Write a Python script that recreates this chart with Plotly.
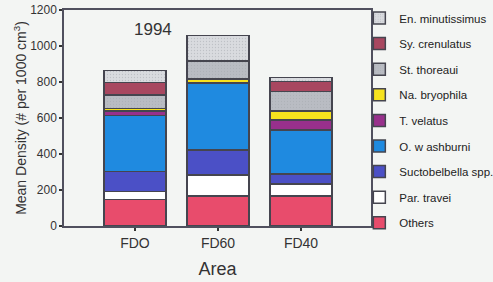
import plotly.graph_objects as go

areas = ["FDO", "FD60", "FD40"]
species = ["Others", "Par. travei", "Suctobelbella spp.", "O. w ashburni", "T. velatus",
           "Na. bryophila", "St. thoreaui", "Sy. crenulatus", "En. minutissimus"]
others = [148, 167, 168]
par_travei = [45, 116, 64]
suctobelbella = [109, 139, 57]
o_washburni = [311, 373, 244]
t_velatus = [26, 3, 56]
na_bryophila = [15, 20, 50]
st_thoreaui = [75, 96, 107]
sy_crenulatus = [68, 3, 56]
en_minutissimus = [66, 140, 22]
series = [others, par_travei, suctobelbella, o_washburni, t_velatus,
          na_bryophila, st_thoreaui, sy_crenulatus, en_minutissimus]
colors = ["#e84c6c", "#ffffff", "#4b50c6", "#1f8ae0", "#98308c",
          "#f6e21e", "#b9bcc3", "#a84760", "#d9dbdf"]
patterned = {"St. thoreaui", "En. minutissimus"}

fig = go.Figure()
n = len(species)
for i, (name, vals, col) in enumerate(zip(species, series, colors)):
    marker = dict(color=col, line=dict(color="#45454f", width=1.5))
    if name in patterned:
        marker["pattern"] = dict(shape=".", size=3, solidity=0.15, fgcolor="#a4a8ae",
                                 bgcolor=col)
    fig.add_trace(go.Bar(x=areas, y=vals, name=name, marker=marker, width=0.75,
                         legendgroup=name, legendrank=n - i))

fig.add_annotation(x=0.22, y=1090, xref="x", yref="y", text="1994", showarrow=False,
                   font=dict(size=17, color="#333"))

fig.update_layout(
    barmode="stack",
    width=493, height=282,
    margin=dict(l=64, r=122, t=10, b=56, autoexpand=False),
    paper_bgcolor="#f3f5f3", plot_bgcolor="#f3f5f3",
    font=dict(family="Liberation Sans, Arial, sans-serif", color="#333"),
    showlegend=True,
    legend=dict(traceorder="grouped", x=0.962, xanchor="left", y=1.03, yanchor="top",
                font=dict(size=11.5, color="#222"), tracegroupgap=6.6, maxheight=400,
                bgcolor="rgba(0,0,0,0)", itemwidth=30),
    xaxis=dict(range=[-0.855, 2.843], showline=True, linecolor="#50505e", linewidth=1.5,
               mirror=True, ticks="outside", ticklen=3, tickwidth=2, tickcolor="#333",
               tickfont=dict(size=14), title=dict(text="Area", font=dict(size=18), standoff=13)),
    yaxis=dict(range=[0, 1200], dtick=200, showline=True, linecolor="#50505e", linewidth=1.5,
               mirror=True, ticks="outside", ticklen=3, tickwidth=2, tickcolor="#333",
               showgrid=False, zeroline=False, tickfont=dict(size=12),
               title=dict(text="Mean Density (# per 1000 cm<sup>3</sup>)", font=dict(size=14),
                          standoff=0)),
)

fig.write_html("out.html", config={"displayModeBar": False},
               post_script="document.body.style.margin='0';document.body.style.overflow='hidden';")
